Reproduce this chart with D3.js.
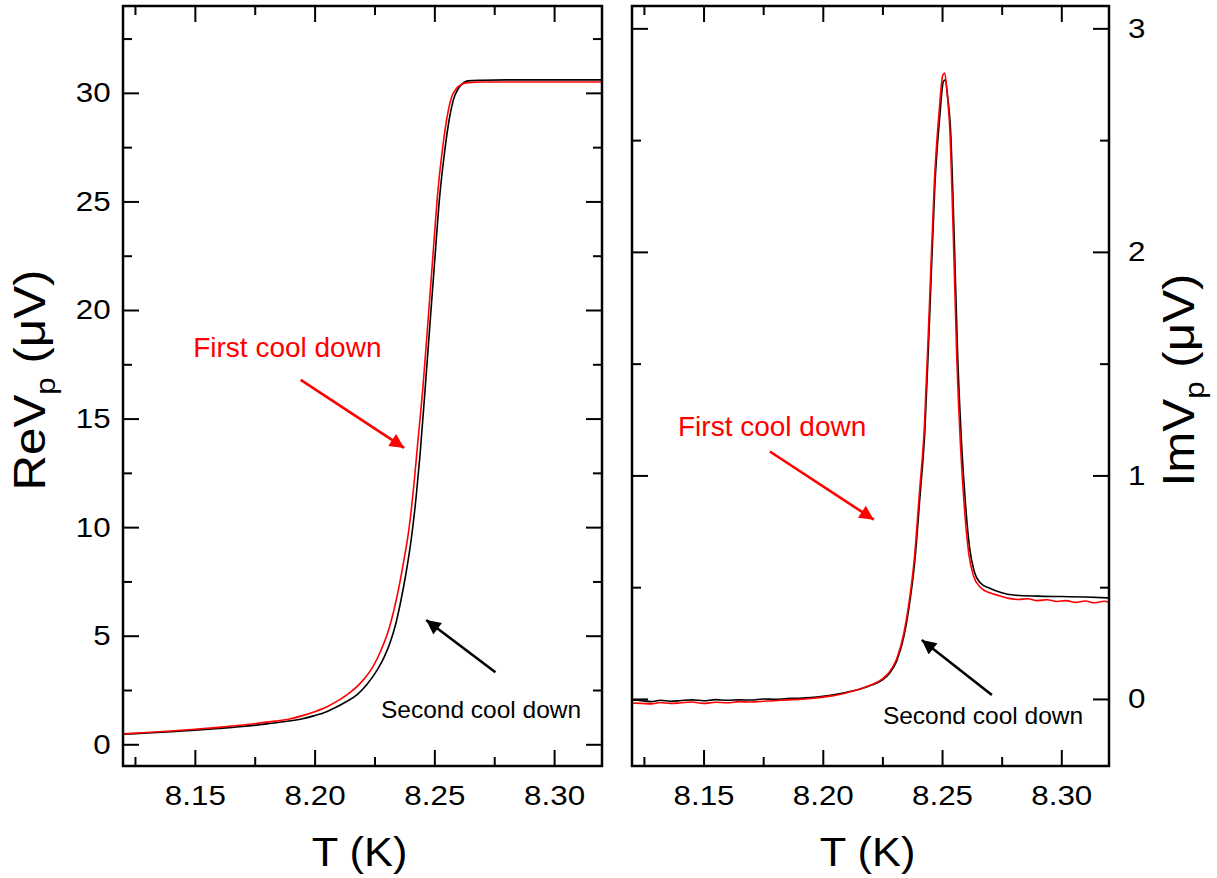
<!DOCTYPE html>
<html>
<head>
<meta charset="utf-8">
<script src="https://cdn.jsdelivr.net/npm/d3@7"></script>
<style>
  body { margin: 0; background: #fff; }
  svg { font-family: "Liberation Sans", Arial, sans-serif; }
</style>
</head>
<body>
<svg id="chart" width="1217" height="878"></svg>
<script>
// ---- data ----
// left panel: real part, [T (K), ReVp (uV)]
const reSecond = [
  [8.120, 0.46], [8.130, 0.52], [8.140, 0.58], [8.150, 0.65], [8.160, 0.73],
  [8.170, 0.82], [8.180, 0.94], [8.190, 1.08], [8.195, 1.18], [8.200, 1.32],
  [8.205, 1.50], [8.2081, 1.66], [8.213, 1.95], [8.2179, 2.30], [8.222, 2.78],
  [8.2263, 3.45], [8.2290, 4.00], [8.2319, 4.80], [8.2340, 5.60], [8.2360, 6.60],
  [8.2382, 7.90], [8.2403, 9.4], [8.2424, 11.4], [8.2440, 13.3], [8.2459, 16.0],
  [8.2480, 19.1], [8.2501, 22.2], [8.2522, 25.2], [8.2543, 27.3], [8.2564, 28.9],
  [8.2580, 29.7], [8.2600, 30.2], [8.2620, 30.45], [8.2640, 30.55], [8.270, 30.58],
  [8.280, 30.60], [8.290, 30.60], [8.300, 30.60], [8.310, 30.60], [8.320, 30.60]
];
const reFirst = [
  [8.120, 0.48], [8.130, 0.54], [8.140, 0.61], [8.150, 0.69], [8.160, 0.78],
  [8.170, 0.89], [8.180, 1.02], [8.190, 1.18], [8.195, 1.32], [8.200, 1.50],
  [8.205, 1.72], [8.210, 2.02], [8.215, 2.40], [8.220, 2.92], [8.2245, 3.6],
  [8.228, 4.4], [8.231, 5.3], [8.234, 6.6], [8.237, 8.3], [8.2395, 10.0],
  [8.2415, 12.0], [8.243, 13.8], [8.2452, 16.4], [8.2473, 19.4], [8.2494, 22.5],
  [8.2515, 25.5], [8.2535, 27.5], [8.2555, 29.0], [8.2572, 29.8], [8.2592, 30.2],
  [8.2615, 30.4], [8.264, 30.47], [8.270, 30.5], [8.280, 30.5], [8.290, 30.5],
  [8.300, 30.5], [8.310, 30.5], [8.320, 30.5]
];
// right panel: imaginary part, [T (K), ImVp (uV)]
const imSecond = [
  [8.120, -0.005], [8.124, -0.008], [8.128, -0.012], [8.132, -0.006], [8.136, -0.010],
  [8.140, -0.008], [8.145, -0.004], [8.150, -0.008], [8.155, -0.003], [8.160, -0.006],
  [8.165, -0.004], [8.170, -0.005], [8.175, 0.000], [8.180, -0.002], [8.185, 0.002],
  [8.190, 0.003], [8.195, 0.006], [8.200, 0.012], [8.205, 0.020], [8.210, 0.030],
  [8.215, 0.042], [8.220, 0.060], [8.225, 0.085], [8.228, 0.115], [8.231, 0.170],
  [8.234, 0.280], [8.236, 0.40], [8.2386, 0.62], [8.2407, 0.90], [8.2428, 1.20],
  [8.2449, 1.74], [8.247, 2.30], [8.249, 2.60], [8.2505, 2.76], [8.2513, 2.77],
  [8.2525, 2.68], [8.2535, 2.56], [8.2550, 2.10], [8.2565, 1.55], [8.2580, 1.18],
  [8.2595, 0.92], [8.2615, 0.68], [8.2635, 0.57], [8.266, 0.52], [8.270, 0.495],
  [8.275, 0.475], [8.280, 0.465], [8.290, 0.460], [8.300, 0.458], [8.310, 0.456],
  [8.320, 0.452]
];
const imFirst = [
  [8.120, -0.018], [8.124, -0.020], [8.128, -0.022], [8.132, -0.016], [8.136, -0.020],
  [8.140, -0.018], [8.145, -0.014], [8.150, -0.020], [8.155, -0.015], [8.160, -0.017],
  [8.165, -0.012], [8.170, -0.014], [8.175, -0.010], [8.180, -0.008], [8.185, -0.004],
  [8.190, -0.002], [8.195, 0.002], [8.200, 0.008], [8.205, 0.016], [8.210, 0.028],
  [8.215, 0.042], [8.220, 0.062], [8.225, 0.090], [8.228, 0.122], [8.231, 0.180],
  [8.234, 0.295], [8.236, 0.42], [8.2384, 0.63], [8.2405, 0.92], [8.2426, 1.22],
  [8.2447, 1.76], [8.2468, 2.32], [8.2488, 2.63], [8.2503, 2.79], [8.2511, 2.80],
  [8.2522, 2.70], [8.2532, 2.56], [8.2547, 2.08], [8.2562, 1.52], [8.2577, 1.14],
  [8.2592, 0.88], [8.2612, 0.65], [8.2632, 0.55], [8.266, 0.50], [8.270, 0.475],
  [8.274, 0.462], [8.278, 0.450], [8.282, 0.445], [8.286, 0.448], [8.290, 0.440],
  [8.294, 0.444], [8.298, 0.436], [8.302, 0.440], [8.306, 0.432], [8.310, 0.438],
  [8.314, 0.430], [8.318, 0.437], [8.320, 0.433]
];

const xTicks = [8.15, 8.20, 8.25, 8.30];
const xMinor = [8.125, 8.175, 8.225, 8.275];
const reTicks = [0, 5, 10, 15, 20, 25, 30];
const reMinor = [2.5, 7.5, 12.5, 17.5, 22.5, 27.5, 32.5];
const imTicks = [0, 1, 2, 3];
const imMinor = [0.5, 1.5, 2.5];

// annotations, in data units: [x1, y1, x2, y2]
const reArrows = [
  { color: "#ff0000", pts: [8.1942, 16.78, 8.2374, 13.65] },
  { color: "#000000", pts: [8.2755, 3.32, 8.2466, 5.72] }
];
const reLabels = [
  { text: "First cool down", color: "#ff0000", x: 8.1493, y: 17.84, size: 28 },
  { text: "Second cool down", color: "#000000", x: 8.2277, y: 1.2, size: 24.5 }
];
const imArrows = [
  { color: "#ff0000", pts: [8.1778, 1.107, 8.2214, 0.802] },
  { color: "#000000", pts: [8.2709, 0.018, 8.2415, 0.264] }
];
const imLabels = [
  { text: "First cool down", color: "#ff0000", x: 8.1393, y: 1.178, size: 28 },
  { text: "Second cool down", color: "#000000", x: 8.2252, y: -0.112, size: 24.5 }
];

const svg = d3.select("#chart");
const plotTop = 6, plotBottom = 766;
const MAJ = 16, MIN = 9;

const defs = svg.append("defs");
["#ff0000", "#000000"].forEach((c, i) => {
  defs.append("marker")
    .attr("id", "head" + i)
    .attr("viewBox", "0 0 10 10")
    .attr("refX", 10).attr("refY", 5)
    .attr("markerWidth", 9).attr("markerHeight", 5.5)
    .attr("markerUnits", "strokeWidth")
    .attr("orient", "auto")
    .append("path")
    .attr("d", "M0,0 L10,5 L0,10 Z")
    .attr("fill", c);
});

function panel(opts) {
  const x = d3.scaleLinear().domain([8.12, 8.32]).range([opts.left, opts.right]);
  const y = d3.scaleLinear().domain(opts.yDomain).range([plotBottom, plotTop]);
  const g = svg.append("g");

  function styleAxis(sel) {
    sel.select(".domain").remove();
    sel.selectAll(".tick line").attr("stroke", "#000").attr("stroke-width", 2);
    sel.selectAll(".tick text").attr("fill", "#000").attr("font-size", 28)
      .attr("transform", "scale(1.12,1)");
  }

  // x axes, bottom labelled, top mirrored
  g.append("g").attr("transform", `translate(0,${plotBottom})`)
    .call(d3.axisBottom(x).tickValues(xTicks).tickSize(-MAJ).tickPadding(19).tickFormat(d3.format(".2f")))
    .call(styleAxis);
  g.append("g").attr("transform", `translate(0,${plotBottom})`)
    .call(d3.axisBottom(x).tickValues(xMinor).tickSize(-MIN).tickFormat(""))
    .call(styleAxis);
  g.append("g").attr("transform", `translate(0,${plotTop})`)
    .call(d3.axisTop(x).tickValues(xTicks).tickSize(-MAJ).tickFormat(""))
    .call(styleAxis);
  g.append("g").attr("transform", `translate(0,${plotTop})`)
    .call(d3.axisTop(x).tickValues(xMinor).tickSize(-MIN).tickFormat(""))
    .call(styleAxis);

  // y axes
  const labelLeft = opts.labelSide === "left";
  g.append("g").attr("transform", `translate(${opts.left},0)`)
    .call(d3.axisLeft(y).tickValues(opts.yTicks).tickSize(-MAJ).tickPadding(11)
      .tickFormat(labelLeft ? d3.format("d") : ""))
    .call(styleAxis);
  g.append("g").attr("transform", `translate(${opts.left},0)`)
    .call(d3.axisLeft(y).tickValues(opts.yMinor).tickSize(-MIN).tickFormat(""))
    .call(styleAxis);
  g.append("g").attr("transform", `translate(${opts.right},0)`)
    .call(d3.axisRight(y).tickValues(opts.yTicks).tickSize(-MAJ).tickPadding(17)
      .tickFormat(labelLeft ? "" : d3.format("d")))
    .call(styleAxis);
  g.append("g").attr("transform", `translate(${opts.right},0)`)
    .call(d3.axisRight(y).tickValues(opts.yMinor).tickSize(-MIN).tickFormat(""))
    .call(styleAxis);

  // curves
  const line = d3.line()
    .x(d => x(d[0]))
    .y(d => y(d[1]))
    .curve(d3.curveMonotoneX);
  const clipId = "clip" + opts.id;
  defs.append("clipPath").attr("id", clipId)
    .append("rect").attr("x", opts.left).attr("y", plotTop)
    .attr("width", opts.right - opts.left).attr("height", plotBottom - plotTop);
  const lg = g.append("g").attr("clip-path", `url(#${clipId})`);
  lg.append("path").datum(opts.second)
    .attr("d", line).attr("fill", "none")
    .attr("stroke", "#000").attr("stroke-width", 1.6);
  lg.append("path").datum(opts.first)
    .attr("d", line).attr("fill", "none")
    .attr("stroke", "#ff0000").attr("stroke-width", 1.6);

  // frame
  g.append("rect")
    .attr("x", opts.left).attr("y", plotTop)
    .attr("width", opts.right - opts.left).attr("height", plotBottom - plotTop)
    .attr("fill", "none").attr("stroke", "#000").attr("stroke-width", 2.5);

  // annotations
  opts.arrows.forEach(a => {
    g.append("line")
      .attr("x1", x(a.pts[0])).attr("y1", y(a.pts[1]))
      .attr("x2", x(a.pts[2])).attr("y2", y(a.pts[3]))
      .attr("stroke", a.color).attr("stroke-width", 2.6)
      .attr("marker-end", `url(#head${a.color === "#000000" ? 1 : 0})`);
  });
  opts.labels.forEach(l => {
    g.append("text")
      .attr("x", x(l.x)).attr("y", y(l.y))
      .attr("fill", l.color).attr("font-size", l.size)
      .text(l.text);
  });

  // axis titles
  g.append("text")
    .attr("transform", `translate(${(opts.left + opts.right) / 2 - 3},866) scale(1.06,1)`)
    .attr("text-anchor", "middle").attr("font-size", 41)
    .text("T (K)");

  const yt = g.append("text")
    .attr("transform", `translate(${opts.titleX},380) rotate(-90) scale(1.12,1)`)
    .attr("text-anchor", "middle").attr("font-size", 44);
  yt.append("tspan").text(opts.titleMain);
  yt.append("tspan").attr("font-size", 28).attr("dy", 10).text("p");
  yt.append("tspan").attr("dy", -10).text(" (\u03bcV)");
}

panel({
  id: 1, left: 123, right: 602, yDomain: [-1, 34],
  yTicks: reTicks, yMinor: reMinor, labelSide: "left",
  second: reSecond, first: reFirst,
  arrows: reArrows, labels: reLabels,
  titleX: 45, titleMain: "ReV"
});
panel({
  id: 2, left: 632, right: 1109, yDomain: [-0.3, 3.1],
  yTicks: imTicks, yMinor: imMinor, labelSide: "right",
  second: imSecond, first: imFirst,
  arrows: imArrows, labels: imLabels,
  titleX: 1194, titleMain: "ImV"
});
</script>
</body>
</html>
